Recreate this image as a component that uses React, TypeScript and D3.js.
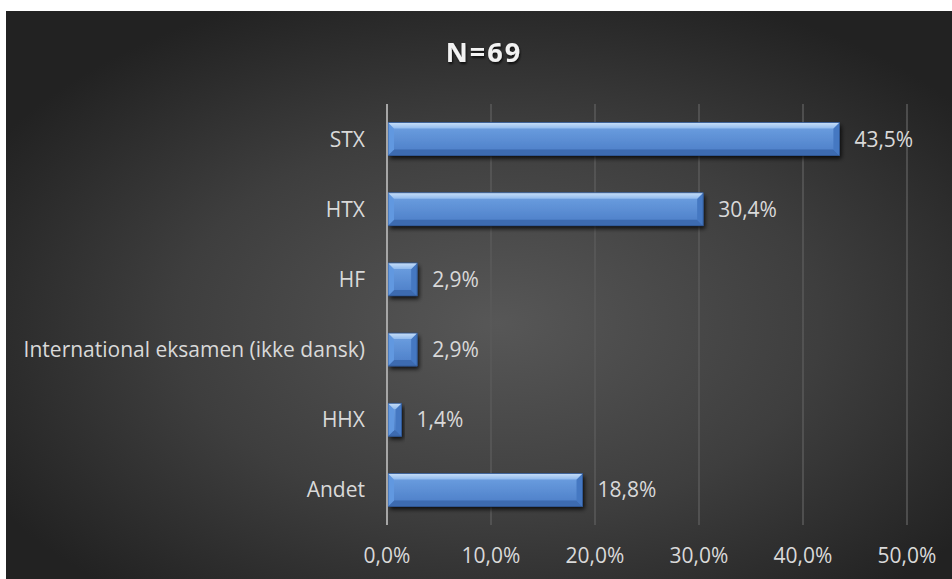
import React from "react";
import * as d3 from "d3";

const categories = ["STX", "HTX", "HF", "International eksamen (ikke dansk)", "HHX", "Andet"];
const values = [43.5, 30.4, 2.9, 2.9, 1.4, 18.8];
const tickValues = [0, 10, 20, 30, 40, 50];
const title = "N=69";

const W = 952;
const H = 579;
const FONT = "'Open Sans', sans-serif";

const fmt = (v: number) => v.toFixed(1).replace(".", ",") + "%";

export default function App() {
  const x = d3.scaleLinear().domain([0, 50]).range([387, 907]);
  const y = d3
    .scaleBand<string>()
    .domain(categories)
    .range([104, 525])
    .paddingInner(0.53)
    .paddingOuter(0.265);
  const bw = y.bandwidth();
  const b = 6;

  return (
    <div style={{ position: "absolute", left: 0, top: 0 }}>
      <svg width={W} height={H} style={{ display: "block" }}>
        <defs>
          <radialGradient id="bg" cx="52%" cy="55%" r="62%">
            <stop offset="0%" stopColor="#575757" />
            <stop offset="55%" stopColor="#3e3e3e" />
            <stop offset="100%" stopColor="#222222" />
          </radialGradient>
          <linearGradient id="barMain" x1="0" y1="0" x2="0" y2="1">
            <stop offset="0%" stopColor="#6fa2e3" />
            <stop offset="100%" stopColor="#4a7cc6" />
          </linearGradient>
          <linearGradient id="barTop" x1="0" y1="0" x2="0" y2="1">
            <stop offset="0%" stopColor="#c8dff8" />
            <stop offset="100%" stopColor="#90baee" />
          </linearGradient>
          <filter id="shadow" x="-10%" y="-30%" width="130%" height="180%">
            <feGaussianBlur in="SourceAlpha" stdDeviation="2" />
            <feOffset dx="2" dy="3" result="ob" />
            <feComponentTransfer>
              <feFuncA type="linear" slope="0.8" />
            </feComponentTransfer>
            <feMerge>
              <feMergeNode />
              <feMergeNode in="SourceGraphic" />
            </feMerge>
          </filter>
          <filter id="tshadow" x="-20%" y="-20%" width="140%" height="160%">
            <feGaussianBlur in="SourceAlpha" stdDeviation="1.2" />
            <feOffset dx="1" dy="2" />
            <feComponentTransfer>
              <feFuncA type="linear" slope="0.7" />
            </feComponentTransfer>
            <feMerge>
              <feMergeNode />
              <feMergeNode in="SourceGraphic" />
            </feMerge>
          </filter>
        </defs>
        <rect x={6} y={11} width={W - 6} height={H - 11} fill="url(#bg)" />

        <text
          x={484}
          y={62}
          textAnchor="middle"
          fontFamily={FONT}
          fontWeight="bold"
          fontSize={27}
          letterSpacing={2}
          fill="#f2f2f2"
          filter="url(#tshadow)"
        >
          {title}
        </text>

        {tickValues.slice(1).map((t) => (
          <line key={t} x1={x(t)} x2={x(t)} y1={104} y2={525} stroke="#5a5a5a" strokeWidth={1.5} />
        ))}

        {categories.map((c, i) => {
          const y0 = y(c)!;
          const y1 = y0 + bw;
          const x0 = x(0) + 1;
          const x1 = x(values[i]);
          const bb = Math.min(b, (x1 - x0) / 2);
          const pts = (arr: number[][]) => arr.map((p) => p.join(",")).join(" ");
          return (
            <g key={c}>
              <g filter="url(#shadow)">
                <rect x={x0} y={y0} width={x1 - x0} height={bw} fill="url(#barMain)" />
              </g>
              <polygon
                points={pts([[x0, y1], [x1, y1], [x1 - bb, y1 - bb], [x0 + bb, y1 - bb]])}
                fill="#3d6bb0"
              />
              <polygon
                points={pts([[x1, y0], [x1, y1], [x1 - bb, y1 - bb], [x1 - bb, y0 + bb]])}
                fill="#4578c2"
              />
              <polygon
                points={pts([[x0, y0], [x0, y1], [x0 + bb, y1 - bb], [x0 + bb, y0 + bb]])}
                fill="#6198e0"
              />
              <polygon
                points={pts([[x0, y0], [x1, y0], [x1 - bb, y0 + bb], [x0 + bb, y0 + bb]])}
                fill="url(#barTop)"
              />
              <rect
                x={x0}
                y={y0}
                width={x1 - x0}
                height={bw}
                fill="none"
                stroke="#2d5490"
                strokeWidth={0.8}
              />
              <text
                x={x1 + 15}
                y={y0 + bw / 2 + 7.5}
                fontFamily={FONT}
                fontSize={21}
                fill="#d9d9d9"
              >
                {fmt(values[i])}
              </text>
              <text
                x={365}
                y={y0 + bw / 2 + 7.5}
                textAnchor="end"
                fontFamily={FONT}
                fontSize={21}
                fill="#d9d9d9"
              >
                {c}
              </text>
            </g>
          );
        })}

        <line x1={x(0)} x2={x(0)} y1={104} y2={525} stroke="#a6a6a6" strokeWidth={2} />

        {tickValues.map((t) => (
          <text
            key={t}
            x={x(t)}
            y={563}
            textAnchor="middle"
            fontFamily={FONT}
            fontSize={21}
            fill="#d9d9d9"
          >
            {fmt(t)}
          </text>
        ))}
      </svg>
    </div>
  );
}
